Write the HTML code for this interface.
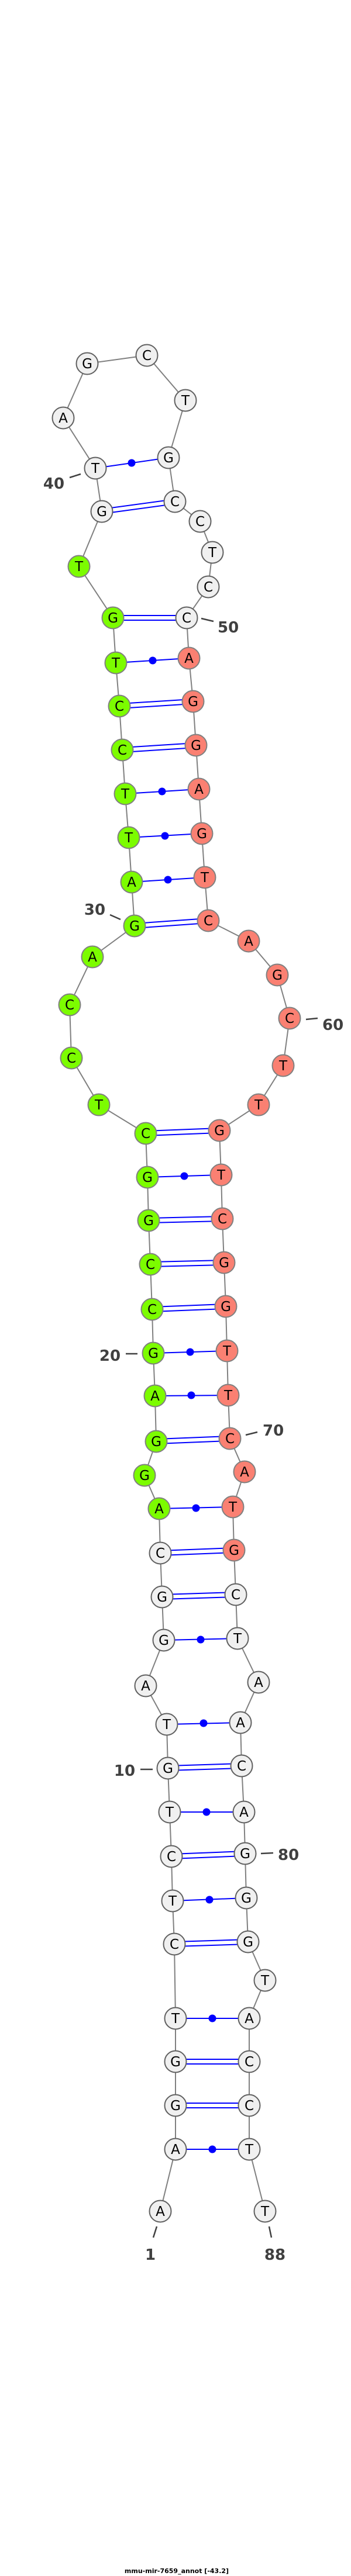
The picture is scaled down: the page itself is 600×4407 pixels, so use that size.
<!DOCTYPE html>
<html><head><meta charset="utf-8"><style>
html,body{margin:0;padding:0;background:#fff;}
svg{display:block;}
.bb{stroke:#808080;stroke-width:2;fill:none;}
.p{stroke:#0000ff;stroke-width:2;}
.w{fill:#f0f0f0;stroke:#606060;stroke-width:2;}
.g{fill:#7cfc00;stroke:#808080;stroke-width:2;}
.r{fill:#fa8072;stroke:#808080;stroke-width:2;}
.t{font-family:"DejaVu Sans","Liberation Sans",sans-serif;font-size:23px;text-anchor:middle;fill:#000;}
.l{font-family:"DejaVu Sans","Liberation Sans",sans-serif;font-size:26px;font-weight:bold;fill:#404040;}
.tk{stroke:#404040;stroke-width:2.5;}
</style></head><body>
<svg width="600" height="4407" viewBox="0 0 600 4407" xmlns="http://www.w3.org/2000/svg">
<polyline class="bb" points="274,3783 300,3677 300,3602 300,3527 300,3453 298,3326 295,3252 293,3176 290,3100 287,3025 285,2950 249,2884 280,2806 277,2732 274,2657 272,2581 247,2524 267,2466 265,2388 262,2315 260,2240 257,2163 254,2088 252,2014 249,1939 169,1890 122,1810 119,1719 158,1637 230,1584 225,1509 220,1433 214,1358 209,1283 204,1208 198,1134 193,1057 135,969 174,875 163,801 108,715 149,622 251,608 317,685 288,783 299,858 342,892 363,945 356,1004 319,1057 323,1126 330,1200 335,1275 340,1350 345,1426 350,1501 356,1575 425,1610 474,1668 495,1742 484,1823 442,1890 375,1934 378,2010 380,2085 383,2160 386,2235 388,2311 390,2387 393,2461 418,2518 398,2578 400,2652 403,2728 406,2803 442,2878 411,2947 413,3021 417,3100 419,3171 421,3247 424,3322 453,3388 426,3453 426,3527 426,3602 426,3677 453,3783"/>
<!-- single (dot) pairs -->
<g class="p">
<line x1="300" y1="3677" x2="426" y2="3677"/>
<line x1="300" y1="3453" x2="426" y2="3453"/>
<line x1="295" y1="3252" x2="421" y2="3247"/>
<line x1="290" y1="3100" x2="417" y2="3100"/>
<line x1="285" y1="2950" x2="411" y2="2947"/>
<line x1="280" y1="2806" x2="406" y2="2803"/>
<line x1="272" y1="2581" x2="398" y2="2578"/>
<line x1="265" y1="2388" x2="390" y2="2387"/>
<line x1="262" y1="2315" x2="388" y2="2311"/>
<line x1="252" y1="2014" x2="378" y2="2010"/>
<line x1="225" y1="1509" x2="350" y2="1501"/>
<line x1="220" y1="1433" x2="345" y2="1426"/>
<line x1="214" y1="1358" x2="340" y2="1350"/>
<line x1="198" y1="1134" x2="323" y2="1126"/>
<line x1="163" y1="801" x2="288" y2="783"/>
<!-- double pairs -->
<line x1="300" y1="3598" x2="426" y2="3598"/><line x1="300" y1="3606" x2="426" y2="3606"/>
<line x1="300" y1="3523" x2="426" y2="3523"/><line x1="300" y1="3531" x2="426" y2="3531"/>
<line x1="298" y1="3322" x2="424" y2="3318"/><line x1="298" y1="3330" x2="424" y2="3326"/>
<line x1="293" y1="3172" x2="419" y2="3167"/><line x1="293" y1="3180" x2="419" y2="3175"/>
<line x1="287" y1="3021" x2="413" y2="3017"/><line x1="287" y1="3029" x2="413" y2="3025"/>
<line x1="277" y1="2728" x2="403" y2="2724"/><line x1="277" y1="2736" x2="403" y2="2732"/>
<line x1="274" y1="2653" x2="400" y2="2648"/><line x1="274" y1="2661" x2="400" y2="2656"/>
<line x1="267" y1="2462" x2="393" y2="2457"/><line x1="267" y1="2470" x2="393" y2="2465"/>
<line x1="260" y1="2236" x2="386" y2="2231"/><line x1="260" y1="2244" x2="386" y2="2239"/>
<line x1="257" y1="2159" x2="383" y2="2156"/><line x1="257" y1="2167" x2="383" y2="2164"/>
<line x1="254" y1="2084" x2="380" y2="2081"/><line x1="254" y1="2092" x2="380" y2="2089"/>
<line x1="249" y1="1935" x2="375" y2="1930"/><line x1="249" y1="1943" x2="375" y2="1938"/>
<line x1="230" y1="1580" x2="356" y2="1571"/><line x1="230" y1="1588" x2="356" y2="1579"/>
<line x1="209" y1="1279" x2="335" y2="1271"/><line x1="209" y1="1287" x2="335" y2="1279"/>
<line x1="204" y1="1204" x2="330" y2="1196"/><line x1="204" y1="1212" x2="330" y2="1204"/>
<line x1="193" y1="1053" x2="319" y2="1053"/><line x1="193" y1="1061" x2="319" y2="1061"/>
<line x1="174" y1="871" x2="299" y2="854"/><line x1="174" y1="879" x2="299" y2="862"/>
</g>
<g fill="#0000ff">
<circle cx="363" cy="3677" r="6.5"/><circle cx="363" cy="3453" r="6.5"/><circle cx="358" cy="3250" r="6.5"/>
<circle cx="353" cy="3100" r="6.5"/><circle cx="348" cy="2948" r="6.5"/><circle cx="343" cy="2805" r="6.5"/>
<circle cx="335" cy="2580" r="6.5"/><circle cx="327" cy="2387" r="6.5"/><circle cx="325" cy="2313" r="6.5"/>
<circle cx="315" cy="2012" r="6.5"/><circle cx="287" cy="1505" r="6.5"/><circle cx="282" cy="1430" r="6.5"/>
<circle cx="277" cy="1354" r="6.5"/><circle cx="261" cy="1130" r="6.5"/><circle cx="225" cy="792" r="6.5"/>
</g>
<!-- nodes -->
<g>
<circle class="w" cx="274" cy="3783" r="18.5"/><text class="t" x="274" y="3791">A</text>
<circle class="w" cx="300" cy="3677" r="18.5"/><text class="t" x="300" y="3685">A</text>
<circle class="w" cx="300" cy="3602" r="18.5"/><text class="t" x="300" y="3610">G</text>
<circle class="w" cx="300" cy="3527" r="18.5"/><text class="t" x="300" y="3535">G</text>
<circle class="w" cx="300" cy="3453" r="18.5"/><text class="t" x="300" y="3461">T</text>
<circle class="w" cx="298" cy="3326" r="18.5"/><text class="t" x="298" y="3334">C</text>
<circle class="w" cx="295" cy="3252" r="18.5"/><text class="t" x="295" y="3260">T</text>
<circle class="w" cx="293" cy="3176" r="18.5"/><text class="t" x="293" y="3184">C</text>
<circle class="w" cx="290" cy="3100" r="18.5"/><text class="t" x="290" y="3108">T</text>
<circle class="w" cx="287" cy="3025" r="18.5"/><text class="t" x="287" y="3033">G</text>
<circle class="w" cx="285" cy="2950" r="18.5"/><text class="t" x="285" y="2958">T</text>
<circle class="w" cx="249" cy="2884" r="18.5"/><text class="t" x="249" y="2892">A</text>
<circle class="w" cx="280" cy="2806" r="18.5"/><text class="t" x="280" y="2814">G</text>
<circle class="w" cx="277" cy="2732" r="18.5"/><text class="t" x="277" y="2740">G</text>
<circle class="w" cx="274" cy="2657" r="18.5"/><text class="t" x="274" y="2665">C</text>
<circle class="g" cx="272" cy="2581" r="18.5"/><text class="t" x="272" y="2589">A</text>
<circle class="g" cx="247" cy="2524" r="18.5"/><text class="t" x="247" y="2532">G</text>
<circle class="g" cx="267" cy="2466" r="18.5"/><text class="t" x="267" y="2474">G</text>
<circle class="g" cx="265" cy="2388" r="18.5"/><text class="t" x="265" y="2396">A</text>
<circle class="g" cx="262" cy="2315" r="18.5"/><text class="t" x="262" y="2323">G</text>
<circle class="g" cx="260" cy="2240" r="18.5"/><text class="t" x="260" y="2248">C</text>
<circle class="g" cx="257" cy="2163" r="18.5"/><text class="t" x="257" y="2171">C</text>
<circle class="g" cx="254" cy="2088" r="18.5"/><text class="t" x="254" y="2096">G</text>
<circle class="g" cx="252" cy="2014" r="18.5"/><text class="t" x="252" y="2022">G</text>
<circle class="g" cx="249" cy="1939" r="18.5"/><text class="t" x="249" y="1947">C</text>
<circle class="g" cx="169" cy="1890" r="18.5"/><text class="t" x="169" y="1898">T</text>
<circle class="g" cx="122" cy="1810" r="18.5"/><text class="t" x="122" y="1818">C</text>
<circle class="g" cx="119" cy="1719" r="18.5"/><text class="t" x="119" y="1727">C</text>
<circle class="g" cx="158" cy="1637" r="18.5"/><text class="t" x="158" y="1645">A</text>
<circle class="g" cx="230" cy="1584" r="18.5"/><text class="t" x="230" y="1592">G</text>
<circle class="g" cx="225" cy="1509" r="18.5"/><text class="t" x="225" y="1517">A</text>
<circle class="g" cx="220" cy="1433" r="18.5"/><text class="t" x="220" y="1441">T</text>
<circle class="g" cx="214" cy="1358" r="18.5"/><text class="t" x="214" y="1366">T</text>
<circle class="g" cx="209" cy="1283" r="18.5"/><text class="t" x="209" y="1291">C</text>
<circle class="g" cx="204" cy="1208" r="18.5"/><text class="t" x="204" y="1216">C</text>
<circle class="g" cx="198" cy="1134" r="18.5"/><text class="t" x="198" y="1142">T</text>
<circle class="g" cx="193" cy="1057" r="18.5"/><text class="t" x="193" y="1065">G</text>
<circle class="g" cx="135" cy="969" r="18.5"/><text class="t" x="135" y="977">T</text>
<circle class="w" cx="174" cy="875" r="18.5"/><text class="t" x="174" y="883">G</text>
<circle class="w" cx="163" cy="801" r="18.5"/><text class="t" x="163" y="809">T</text>
<circle class="w" cx="108" cy="715" r="18.5"/><text class="t" x="108" y="723">A</text>
<circle class="w" cx="149" cy="622" r="18.5"/><text class="t" x="149" y="630">G</text>
<circle class="w" cx="251" cy="608" r="18.5"/><text class="t" x="251" y="616">C</text>
<circle class="w" cx="317" cy="685" r="18.5"/><text class="t" x="317" y="693">T</text>
<circle class="w" cx="288" cy="783" r="18.5"/><text class="t" x="288" y="791">G</text>
<circle class="w" cx="299" cy="858" r="18.5"/><text class="t" x="299" y="866">C</text>
<circle class="w" cx="342" cy="892" r="18.5"/><text class="t" x="342" y="900">C</text>
<circle class="w" cx="363" cy="945" r="18.5"/><text class="t" x="363" y="953">T</text>
<circle class="w" cx="356" cy="1004" r="18.5"/><text class="t" x="356" y="1012">C</text>
<circle class="w" cx="319" cy="1057" r="18.5"/><text class="t" x="319" y="1065">C</text>
<circle class="r" cx="323" cy="1126" r="18.5"/><text class="t" x="323" y="1134">A</text>
<circle class="r" cx="330" cy="1200" r="18.5"/><text class="t" x="330" y="1208">G</text>
<circle class="r" cx="335" cy="1275" r="18.5"/><text class="t" x="335" y="1283">G</text>
<circle class="r" cx="340" cy="1350" r="18.5"/><text class="t" x="340" y="1358">A</text>
<circle class="r" cx="345" cy="1426" r="18.5"/><text class="t" x="345" y="1434">G</text>
<circle class="r" cx="350" cy="1501" r="18.5"/><text class="t" x="350" y="1509">T</text>
<circle class="r" cx="356" cy="1575" r="18.5"/><text class="t" x="356" y="1583">C</text>
<circle class="r" cx="425" cy="1610" r="18.5"/><text class="t" x="425" y="1618">A</text>
<circle class="r" cx="474" cy="1668" r="18.5"/><text class="t" x="474" y="1676">G</text>
<circle class="r" cx="495" cy="1742" r="18.5"/><text class="t" x="495" y="1750">C</text>
<circle class="r" cx="484" cy="1823" r="18.5"/><text class="t" x="484" y="1831">T</text>
<circle class="r" cx="442" cy="1890" r="18.5"/><text class="t" x="442" y="1898">T</text>
<circle class="r" cx="375" cy="1934" r="18.5"/><text class="t" x="375" y="1942">G</text>
<circle class="r" cx="378" cy="2010" r="18.5"/><text class="t" x="378" y="2018">T</text>
<circle class="r" cx="380" cy="2085" r="18.5"/><text class="t" x="380" y="2093">C</text>
<circle class="r" cx="383" cy="2160" r="18.5"/><text class="t" x="383" y="2168">G</text>
<circle class="r" cx="386" cy="2235" r="18.5"/><text class="t" x="386" y="2243">G</text>
<circle class="r" cx="388" cy="2311" r="18.5"/><text class="t" x="388" y="2319">T</text>
<circle class="r" cx="390" cy="2387" r="18.5"/><text class="t" x="390" y="2395">T</text>
<circle class="r" cx="393" cy="2461" r="18.5"/><text class="t" x="393" y="2469">C</text>
<circle class="r" cx="418" cy="2518" r="18.5"/><text class="t" x="418" y="2526">A</text>
<circle class="r" cx="398" cy="2578" r="18.5"/><text class="t" x="398" y="2586">T</text>
<circle class="r" cx="400" cy="2652" r="18.5"/><text class="t" x="400" y="2660">G</text>
<circle class="w" cx="403" cy="2728" r="18.5"/><text class="t" x="403" y="2736">C</text>
<circle class="w" cx="406" cy="2803" r="18.5"/><text class="t" x="406" y="2811">T</text>
<circle class="w" cx="442" cy="2878" r="18.5"/><text class="t" x="442" y="2886">A</text>
<circle class="w" cx="411" cy="2947" r="18.5"/><text class="t" x="411" y="2955">A</text>
<circle class="w" cx="413" cy="3021" r="18.5"/><text class="t" x="413" y="3029">C</text>
<circle class="w" cx="417" cy="3100" r="18.5"/><text class="t" x="417" y="3108">A</text>
<circle class="w" cx="419" cy="3171" r="18.5"/><text class="t" x="419" y="3179">G</text>
<circle class="w" cx="421" cy="3247" r="18.5"/><text class="t" x="421" y="3255">G</text>
<circle class="w" cx="424" cy="3322" r="18.5"/><text class="t" x="424" y="3330">G</text>
<circle class="w" cx="453" cy="3388" r="18.5"/><text class="t" x="453" y="3396">T</text>
<circle class="w" cx="426" cy="3453" r="18.5"/><text class="t" x="426" y="3461">A</text>
<circle class="w" cx="426" cy="3527" r="18.5"/><text class="t" x="426" y="3535">C</text>
<circle class="w" cx="426" cy="3602" r="18.5"/><text class="t" x="426" y="3610">C</text>
<circle class="w" cx="426" cy="3677" r="18.5"/><text class="t" x="426" y="3685">T</text>
<circle class="w" cx="453" cy="3783" r="18.5"/><text class="t" x="453" y="3791">T</text>
</g>
<!-- labels -->
<g>
<line class="tk" x1="119" y1="817" x2="138" y2="811"/><text class="l" x="92" y="836" text-anchor="middle">40</text>
<line class="tk" x1="344" y1="1058" x2="365" y2="1063"/><text class="l" x="372" y="1082">50</text>
<line class="tk" x1="188" y1="1565" x2="206" y2="1573"/><text class="l" x="162" y="1565" text-anchor="middle">30</text>
<line class="tk" x1="523" y1="1744" x2="543" y2="1742"/><text class="l" x="551" y="1762">60</text>
<line class="tk" x1="215" y1="2316" x2="235" y2="2316"/><text class="l" x="188" y="2328" text-anchor="middle">20</text>
<line class="tk" x1="420" y1="2455" x2="440" y2="2450"/><text class="l" x="449" y="2456">70</text>
<line class="tk" x1="240" y1="3027" x2="261" y2="3027"/><text class="l" x="213" y="3038" text-anchor="middle">10</text>
<line class="tk" x1="446" y1="3171" x2="467" y2="3170"/><text class="l" x="475" y="3182">80</text>
<line class="tk" x1="268" y1="3809" x2="262" y2="3828"/><text class="l" x="257" y="3866" text-anchor="middle">1</text>
<line class="tk" x1="460" y1="3809" x2="464" y2="3828"/><text class="l" x="470" y="3866" text-anchor="middle">88</text>
</g>
<text x="302" y="4402" text-anchor="middle" style="font-family:'DejaVu Sans','Liberation Sans',sans-serif;font-size:11px;font-weight:bold;fill:#000;">mmu-mir-7659_annot [-43.2]</text>
</svg>
</body></html>
